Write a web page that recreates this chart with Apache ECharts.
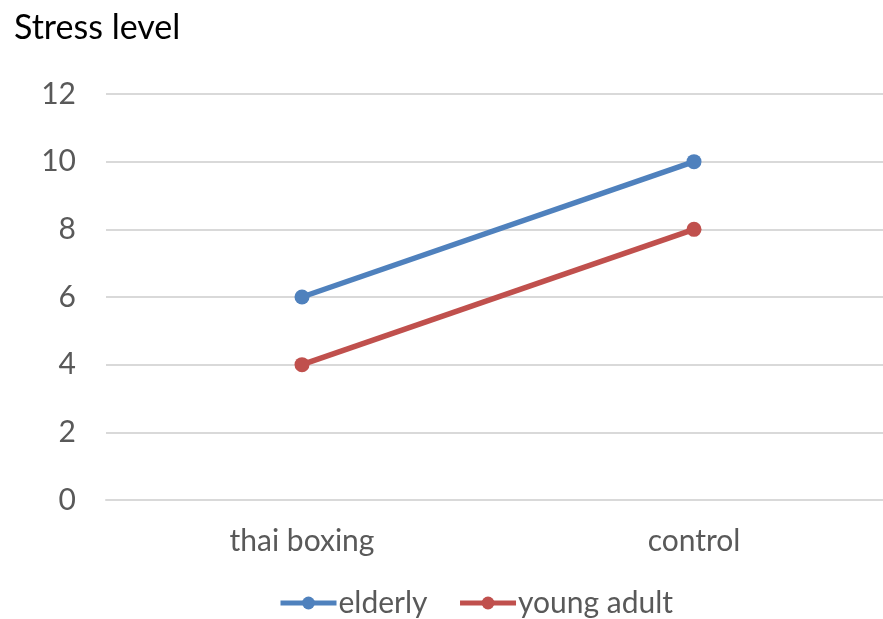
<!DOCTYPE html>
<html><head><meta charset="utf-8">
<script src="https://cdn.jsdelivr.net/npm/echarts@6/dist/echarts.min.js"></script>
<style>html,body{margin:0;padding:0;background:#fff}#c{width:883px;height:619px}</style>
</head><body><div id="c"></div>
<script>
var categories = ["thai boxing", "control"];
var elderly = [6, 10];
var youngAdult = [4, 8];
var yTicks = {min: 0, max: 12, interval: 2};

var FONT = "Lato";
var chart = echarts.init(document.getElementById('c'));
chart.setOption({
  animation: false,
  title: {text: "Stress level", left: 9, top: 6,
    textStyle: {fontFamily: FONT, fontSize: 34, fontWeight: 'normal', color: '#000'}},
  grid: {left: 106, width: 784, top: 94, height: 406, outerBoundsMode: 'none', containLabel: false},
  legend: {top: 583, left: 273, itemWidth: 56, itemHeight: 16, itemGap: 30,
    data: ["elderly", "young adult"],
    lineStyle: {width: 5},
    textStyle: {fontFamily: FONT, fontSize: 30, color: '#595959', padding: [0,0,0,-3]}},
  xAxis: {type: 'category', data: categories,
    axisLine: {show: true, lineStyle: {color: '#d9d9d9', width: 2}},
    axisTick: {show: false},
    axisLabel: {fontFamily: FONT, fontSize: 30, color: '#595959', margin: 26}},
  yAxis: {type: 'value', min: yTicks.min, max: yTicks.max, interval: yTicks.interval,
    axisLine: {show: false}, axisTick: {show: false},
    splitLine: {lineStyle: {color: '#d9d9d9', width: 2}},
    axisLabel: {fontFamily: FONT, fontSize: 30, color: '#595959', margin: 30}},
  series: [
    {name: "elderly", type: 'line', data: elderly, symbol: 'circle', symbolSize: 15,
      itemStyle: {color: '#4F81BD'}, lineStyle: {width: 5.5, color: '#4F81BD'}},
    {name: "young adult", type: 'line', data: youngAdult, symbol: 'circle', symbolSize: 15,
      itemStyle: {color: '#C0504D'}, lineStyle: {width: 5.5, color: '#C0504D'}}
  ]
});
</script></body></html>
